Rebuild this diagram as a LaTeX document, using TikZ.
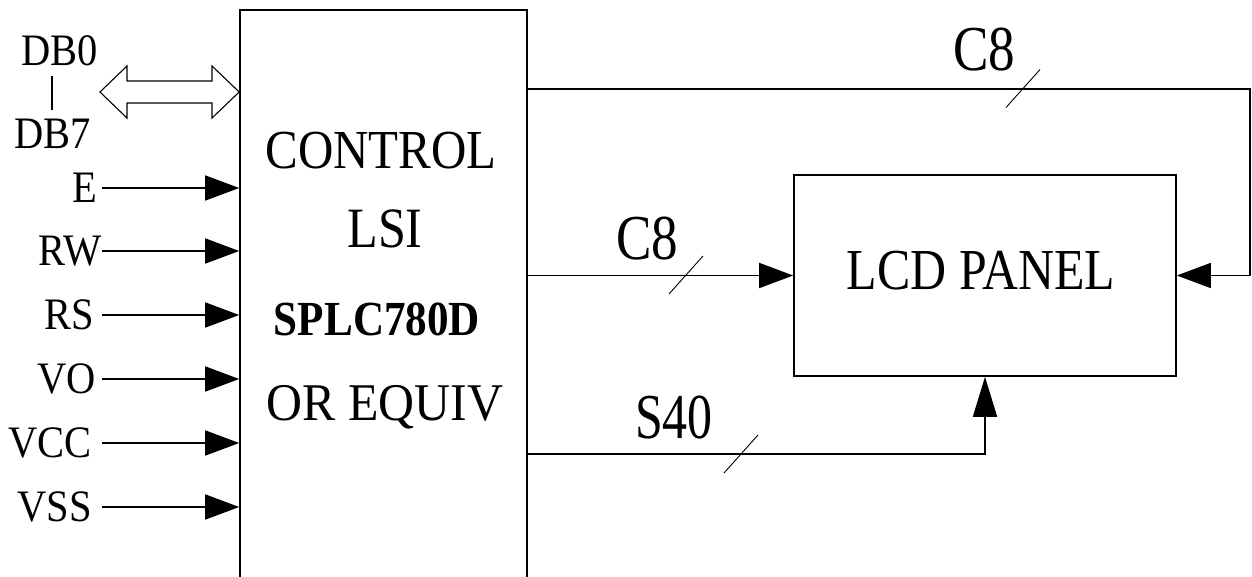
\documentclass[tikz,border=0pt]{standalone}
\usepackage{fontspec}
\setmainfont{Liberation Serif}
\usepackage{graphicx}
\usetikzlibrary{arrows.meta}
\newcommand{\fsz}[1]{\fontsize{#1}{#1}\selectfont}
\newcommand{\sxx}[2]{\scalebox{#1}[1]{#2}}
\begin{document}
\begin{tikzpicture}[x=1pt,y=-1pt,
  wire/.style={line width=1.6pt},
  arr/.style={wire,-{Triangle[length=34pt,width=25pt]}},
  uparr/.style={wire,-{Triangle[length=40pt,width=24pt]}},
  tickmark/.style={line width=0.9pt},
  lbl/.style={inner sep=0pt,font=\fsz{45}},
  big/.style={inner sep=0pt,font=\fsz{64}},
  mid/.style={inner sep=0pt,font=\fsz{55}},
  blk/.style={draw,line width=1.6pt,inner sep=0pt}]
\useasboundingbox (0,0) rectangle (1252,576);
\clip (0,0) rectangle (1252,576);

% blocks
\node[blk,minimum width=287pt,minimum height=590pt] (ctrl) at (383.5,305) {};
\node[blk,minimum width=382pt,minimum height=201pt] (lcd) at (985,275.5) {};

% block texts
\node[mid] (t1) at (381,151) {\sxx{0.89}{CONTROL}};
\node[mid,font=\fsz{57}] (t2) at (385,229) {\sxx{0.88}{LSI}};
\node[inner sep=0pt,font=\fsz{49}\bfseries] (t3) at (377,319) {\sxx{0.88}{SPLC780D}};
\node[inner sep=0pt,font=\fsz{53},anchor=base] (t4) at (385,420) {\sxx{0.94}{OR EQUIV}};
\node[inner sep=0pt,font=\fsz{58}] (lcdt) at (981,271) {\sxx{0.86}{LCD PANEL}};

% bus labels
\node[big] (c8a) at (984,50) {\sxx{0.83}{C8}};
\node[big] (c8b) at (647,239) {\sxx{0.83}{C8}};
\node[big] (s40) at (674,418) {\sxx{0.78}{S40}};

% data bus
\node[lbl] (db0) at (60,51) {\sxx{0.9}{DB0}};
\node[lbl] (db7) at (53,134) {\sxx{0.9}{DB7}};
\draw[line width=1.2pt] (52,76) -- (52,110);
\draw[line width=1.1pt,line join=miter]
  (100,92) -- (127,66) -- (127,81) -- (212,81) -- (212,66) -- (ctrl.west |- 0,92)
  -- (212,118) -- (212,103) -- (127,103) -- (127,118) -- cycle;

% input signals
\foreach \n/\x/\y in {E/97/188, RW/102/251, RS/94/315, VO/96/379, VCC/92/443, VSS/92/507}{
  \node[lbl,anchor=east] (n\n) at (\x,\y) {\sxx{0.9}{\n}};
  \coordinate (s\n) at (102,\y);
  \draw[arr] (s\n) -- (ctrl.west |- s\n);
}

% outputs
\coordinate (rc) at (1250,89);
\coordinate (bc) at (985,454);
\draw[arr] (ctrl.east |- rc) -- (rc) |- (lcd.east);
\draw[arr] (ctrl.east |- lcd.west) -- (lcd.west);
\draw[uparr] (ctrl.east |- bc) -- (bc) -- (lcd.south);

% bus ticks
\coordinate (k1) at (1023,88.5);
\coordinate (k2) at (686,275);
\coordinate (k3) at (741,454);
\foreach \k in {k1,k2,k3}{
  \draw[tickmark] (\k) ++(-17,19) -- ++(34,-38);
}
\end{tikzpicture}
\end{document}
